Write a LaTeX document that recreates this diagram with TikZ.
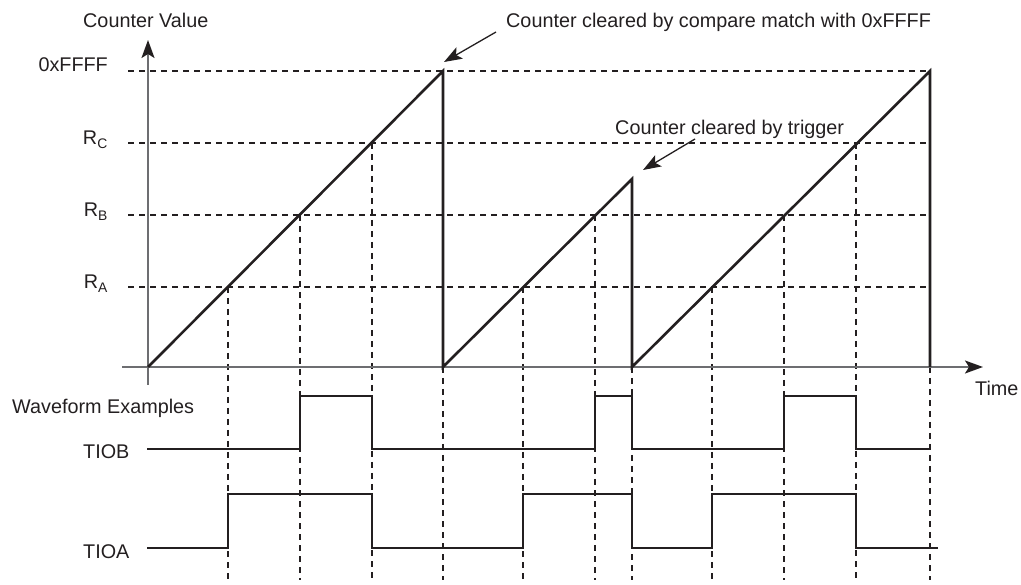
\documentclass[tikz,border=0pt]{standalone}
\usepackage{fontspec}
\setmainfont{Liberation Sans}
\usetikzlibrary{arrows.meta}
\definecolor{ink}{HTML}{231F20}
\definecolor{axisgray}{HTML}{6D6E71}
\begin{document}
\begin{tikzpicture}[x=1pt,y=-1pt,
  lbl/.style={inner sep=0pt, font=\fontsize{19.8}{23}\selectfont, text=ink},
  axisline/.style={draw=axisgray, line width=1.6pt},
  guide/.style={draw=ink, line width=1.1pt, dash pattern=on 6pt off 5pt},
  signal/.style={draw=ink, line width=2.6pt, line join=miter},
  callout/.style={draw=ink, line width=1.3pt},
  tipend/.style={-{Stealth[length=18pt,width=13pt,inset=4pt,color=ink]}}
]
\useasboundingbox (0,0) rectangle (1021,585);

% horizontal guide lines
\foreach \yy in {71,143,215,287}
  \draw[guide] (128,\yy) -- (930,\yy);

% vertical guide lines
\foreach \xx/\yy in {228/287,300/215,372/143,443/367,523/287,595/215,632/367,712/287,784/215,856/143,930/367}
  \draw[guide] (\xx,\yy) -- (\xx,580);

% axes
\coordinate (ybot) at (148,385);
\coordinate (ytop) at (148,40);
\coordinate (xleft) at (122,367);
\coordinate (xright) at (983,367);
\draw[axisline, tipend] (ybot) -- (ytop);
\draw[axisline, tipend] (xleft) -- (xright);

% counter ramps
\coordinate (o) at (148,367);
\coordinate (p1) at (443,71);  \coordinate (z1) at (443,367);
\coordinate (p2) at (632,179); \coordinate (z2) at (632,367);
\coordinate (p3) at (930,71);  \coordinate (z3) at (930,367);
\draw[signal] (o) -- (p1) -- (z1) -- (p2) -- (z2) -- (p3) -- (z3);

% waveforms
\draw[signal] (147,449) -- (300,449) -- (300,396) -- (372,396) -- (372,449)
  -- (595,449) -- (595,396) -- (632,396) -- (632,449) -- (784,449)
  -- (784,396) -- (856,396) -- (856,449) -- (929,449);
\draw[signal] (147,548) -- (228,548) -- (228,494) -- (372,494) -- (372,548)
  -- (523,548) -- (523,494) -- (632,494) -- (632,548) -- (712,548)
  -- (712,494) -- (856,494) -- (856,548) -- (938,548);

% labels
\node[lbl, anchor=base west] (cv) at (83,28) {Counter Value};
\node[lbl, anchor=base east] (lf) at (108,72) {0xFFFF};
\node[lbl, anchor=base east] (lc) at (108,145) {R\textsubscript{C}};
\node[lbl, anchor=base east] (lb) at (108,217) {R\textsubscript{B}};
\node[lbl, anchor=base east] (la) at (108,289) {R\textsubscript{A}};
\node[lbl, anchor=base west] (tm) at (975,396) {Time};
\node[lbl, anchor=base west] (we) at (12,414) {Waveform Examples};
\node[lbl, anchor=base west] (tb) at (83,459) {TIOB};
\node[lbl, anchor=base west] (ta) at (83,558) {TIOA};
\node[lbl, anchor=base west] (c1) at (506,28) {Counter cleared by compare match with 0xFFFF};
\node[lbl, anchor=base west] (c2) at (615,135) {Counter cleared by trigger};

% callout arrows
\coordinate (t1) at (496,32); \coordinate (h1) at (444,62);
\coordinate (t2) at (695,139); \coordinate (h2) at (643,170);
\draw[callout, tipend] (t1) -- (h1);
\draw[callout, tipend] (t2) -- (h2);
\end{tikzpicture}
\end{document}
